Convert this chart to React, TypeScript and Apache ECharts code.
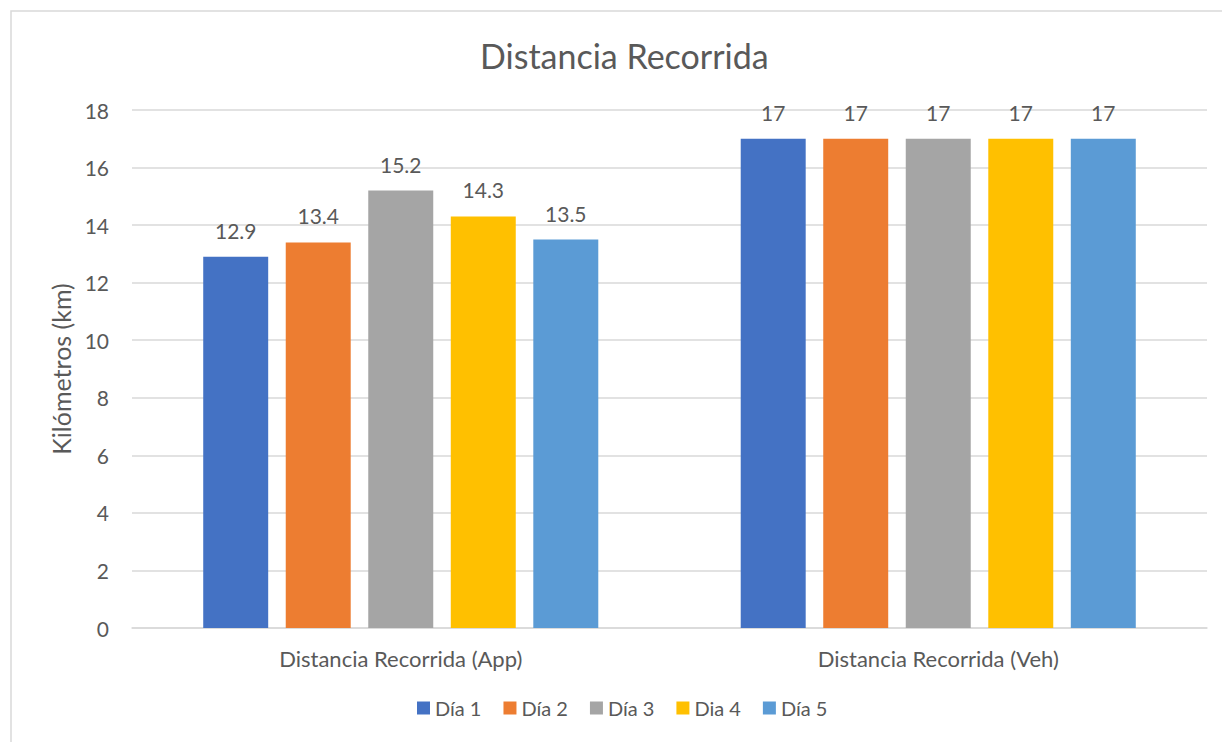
import React, { useEffect, useRef } from "react";
import * as echarts from "echarts";

const categories = ["Distancia Recorrida (App)", "Distancia Recorrida (Veh)"];
const seriesNames = ["Día 1", "Día 2", "Día 3", "Dia 4", "Día 5"];
const dia1 = [12.9, 17];
const dia2 = [13.4, 17];
const dia3 = [15.2, 17];
const dia4 = [14.3, 17];
const dia5 = [13.5, 17];
const colors = ["#4472C4", "#ED7D31", "#A5A5A5", "#FFC000", "#5B9BD5"];

const FONT = "Lato, 'Open Sans', sans-serif";
const TXT = "#595959";

export default function App() {
  const ref = useRef<HTMLDivElement>(null);
  useEffect(() => {
    if (!ref.current) return;
    const chart = echarts.init(ref.current, null, { renderer: "svg" });
    const data = [dia1, dia2, dia3, dia4, dia5];
    chart.setOption({
      animation: false,
      textStyle: { fontFamily: FONT },
      title: {
        text: "Distancia Recorrida",
        left: 475,
        top: 33,
        textStyle: { fontFamily: FONT, fontSize: 34, fontWeight: "normal", color: TXT },
      },
      graphic: [
        {
          type: "rect",
          shape: { x: 11, y: 11, width: 1300, height: 800 },
          style: { fill: "none", stroke: "#D9D9D9", lineWidth: 1.5 },
          silent: true,
        },
      ],
      legend: {
        bottom: 19,
        left: 412,
        itemWidth: 13,
        itemHeight: 13,
        itemGap: 22,
        icon: "rect",
        textStyle: { fontFamily: FONT, fontSize: 20, color: TXT },
        data: seriesNames,
      },
      grid: { left: 132, right: 15, top: 110, bottom: 114, containLabel: false },
      xAxis: {
        type: "category",
        data: categories,
        axisLine: { lineStyle: { color: "#D9D9D9", width: 1.5 } },
        axisTick: { show: false },
        axisLabel: { fontFamily: FONT, fontSize: 22, color: TXT, margin: 19 },
      },
      yAxis: {
        type: "value",
        min: 0,
        max: 18,
        interval: 2,
        name: "Kilómetros (km)",
        nameLocation: "middle",
        nameGap: 57,
        nameTextStyle: { fontFamily: FONT, fontSize: 25, color: TXT },
        axisLine: { show: false },
        axisTick: { show: false },
        splitLine: { lineStyle: { color: "#D9D9D9", width: 1.5 } },
        axisLabel: { fontFamily: FONT, fontSize: 21, color: TXT, margin: 23 },
      },
      series: seriesNames.map((n, i) => ({
        name: n,
        type: "bar",
        data: data[i],
        barGap: "27%",
        barCategoryGap: "26.5%",
        itemStyle: { color: colors[i] },
        label: {
          show: true,
          position: "top",
          distance: 16,
          fontFamily: FONT,
          fontSize: 21,
          color: TXT,
        },
      })),
    });
    return () => chart.dispose();
  }, []);
  return <div ref={ref} style={{ width: 1222, height: 742, position: "absolute", left: 0, top: 0 }} />;
}
